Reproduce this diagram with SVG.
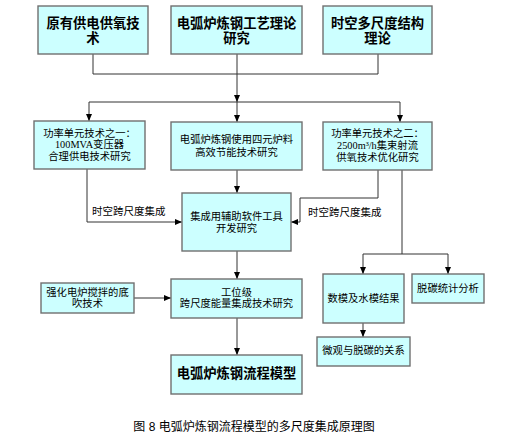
<svg xmlns="http://www.w3.org/2000/svg" width="515" height="435" viewBox="0 0 515 435">
<style>
.box{fill:#CCFFFF;stroke:#707070;stroke-width:1.4}
.t{font-family:"Liberation Serif","Noto Sans CJK SC",serif;font-size:10.3px;fill:#000;text-anchor:middle}
.tb{font-family:"Liberation Serif","Noto Sans CJK SC",serif;font-size:13.3px;font-weight:bold;fill:#000;text-anchor:middle}
.lbl{font-family:"Liberation Serif","Noto Sans CJK SC",serif;font-size:10.5px;fill:#000}
.cap{font-family:"Liberation Sans","Noto Sans CJK SC",sans-serif;font-size:12px;fill:#000;text-anchor:middle}
.c{fill:none;stroke:#333;stroke-width:1}
</style>
<defs>
<marker id="ah" markerWidth="7" markerHeight="6" refX="7" refY="3" orient="auto" markerUnits="userSpaceOnUse">
<path d="M0,0 L7,3 L0,6 z" fill="#000"/>
</marker>
</defs>
<rect width="515" height="435" fill="#fff"/>
<g id="connectors">
<path class="c" d="M93,54 V74 H378 V54"/>
<path class="c" d="M237,54 V102" marker-end="url(#ah)"/>
<path class="c" d="M89,102 H400"/>
<path class="c" d="M89,102 V121" marker-end="url(#ah)"/>
<path class="c" d="M237,102 V122" marker-end="url(#ah)"/>
<path class="c" d="M400,102 V122" marker-end="url(#ah)"/>
<path class="c" d="M237,170 V193" marker-end="url(#ah)"/>
<path class="c" d="M87,169 V222 H182" marker-end="url(#ah)"/>
<path class="c" d="M378,170 V198 H300 V222 H291" marker-end="url(#ah)"/>
<path class="c" d="M402,170 V254"/>
<path class="c" d="M363,254 H448"/>
<path class="c" d="M363,254 V274" marker-end="url(#ah)"/>
<path class="c" d="M448,254 V274" marker-end="url(#ah)"/>
<path class="c" d="M363,323 V337" marker-end="url(#ah)"/>
<path class="c" d="M134,298 H171" marker-end="url(#ah)"/>
<path class="c" d="M237,251 V279" marker-end="url(#ah)"/>
<path class="c" d="M237,318 V355" marker-end="url(#ah)"/>
<text class="lbl" x="92" y="215">时空跨尺度集成</text>
<text class="lbl" x="308" y="216">时空跨尺度集成</text>
</g>
<g id="nodeA"><rect class="box" x="38" y="6" width="110" height="48"/><text class="tb" x="93" y="27.5">原有供电供氧技<tspan x="93" dy="15">术</tspan></text></g>
<g id="nodeB"><rect class="box" x="171" y="6" width="131" height="48"/><text class="tb" x="236.5" y="27.5">电弧炉炼钢工艺理论<tspan x="236.5" dy="15">研究</tspan></text></g>
<g id="nodeC"><rect class="box" x="323" y="6" width="109" height="48"/><text class="tb" x="377.5" y="27.5">时空多尺度结构<tspan x="377.5" dy="15">理论</tspan></text></g>
<g id="nodeD"><rect class="box" x="34" y="121" width="111" height="48"/><text class="t" x="89.5" y="136.5">功率单元技术之一：<tspan x="89.5" dy="11.5">100MVA变压器</tspan><tspan x="89.5" dy="11.5">合理供电技术研究</tspan></text></g>
<g id="nodeE"><rect class="box" x="171" y="122" width="131" height="48"/><text class="t" x="236.5" y="143">电弧炉炼钢使用四元炉料<tspan x="236.5" dy="13">高效节能技术研究</tspan></text></g>
<g id="nodeF"><rect class="box" x="323" y="122" width="109" height="48"/><text class="t" x="377.5" y="137">功率单元技术之二：<tspan x="377.5" dy="12">2500m³/h集束射流</tspan><tspan x="377.5" dy="12">供氧技术优化研究</tspan></text></g>
<g id="nodeG"><rect class="box" x="182" y="193" width="109" height="58"/><text class="t" x="236.5" y="220">集成用辅助软件工具<tspan x="236.5" dy="11.5">开发研究</tspan></text></g>
<g id="nodeK"><rect class="box" x="41" y="283" width="93" height="30"/><text class="t" x="87.5" y="295.5">强化电炉搅拌的底<tspan x="87.5" dy="11.5">吹技术</tspan></text></g>
<g id="nodeL"><rect class="box" x="171" y="279" width="131" height="39"/><text class="t" x="236.5" y="295.5">工位级<tspan x="236.5" dy="11.5">跨尺度能量集成技术研究</tspan></text></g>
<g id="nodeM"><rect class="box" x="171" y="355" width="131" height="39"/><text class="tb" x="236.5" y="378">电弧炉炼钢流程模型</text></g>
<g id="nodeH"><rect class="box" x="323" y="274" width="81" height="49"/><text class="t" x="363.5" y="302">数模及水模结果</text></g>
<g id="nodeI"><rect class="box" x="412" y="274" width="72" height="29"/><text class="t" x="448" y="292">脱碳统计分析</text></g>
<g id="nodeJ"><rect class="box" x="317" y="337" width="93" height="29"/><text class="t" x="363.5" y="354">微观与脱碳的关系</text></g>
<text class="cap" x="254" y="431">图 8  电弧炉炼钢流程模型的多尺度集成原理图</text>
</svg>
